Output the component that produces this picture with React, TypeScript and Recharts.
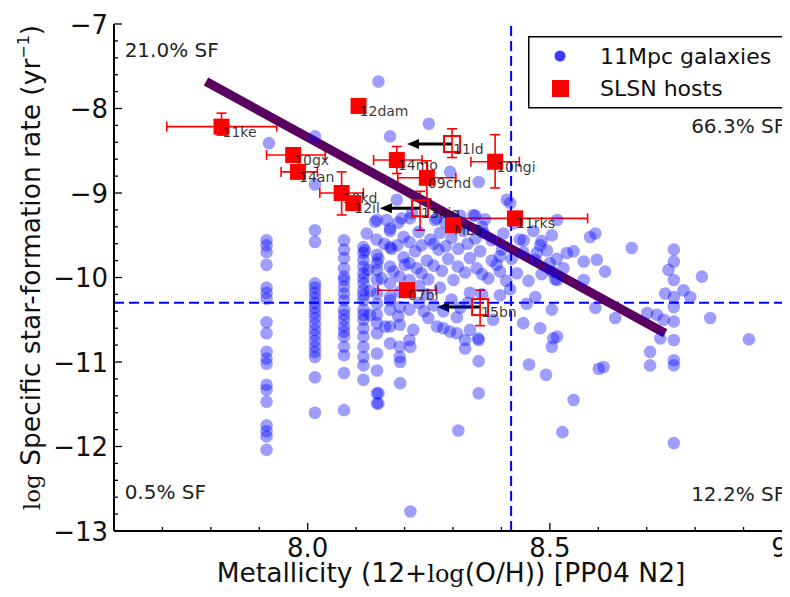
import React from 'react';
import {
  ScatterChart,
  Scatter,
  XAxis,
  YAxis,
  ErrorBar,
  ReferenceLine,
  ReferenceDot,
  Legend,
  Label,
} from 'recharts';

const FONT = '"DejaVu Sans", sans-serif';

// ---- axis ticks ----
const xTicks = [7.6, 7.7, 7.8, 7.9, 8.0, 8.1, 8.2, 8.3, 8.4, 8.5, 8.6, 8.7, 8.8, 8.9, 9.0];
const xMajor = [8.0, 8.5, 9.0];
const xMajorLabels = ['8.0', '8.5', '9.0'];
const yTicks = [
  -13, -12.8, -12.6, -12.4, -12.2, -12, -11.8, -11.6, -11.4, -11.2, -11, -10.8, -10.6, -10.4, -10.2,
  -10, -9.8, -9.6, -9.4, -9.2, -9, -8.8, -8.6, -8.4, -8.2, -8, -7.8, -7.6, -7.4, -7.2, -7,
];
const yMajor = [-13, -12, -11, -10, -9, -8, -7];
const yMajorLabels = ['\u221213', '\u221212', '\u221211', '\u221210', '\u22129', '\u22128', '\u22127'];

// ---- 11Mpc galaxies (metallicity, log sSFR) ----
const galStreakA: [number, number][] = [
  [7.92, -8.41], [7.915, -9.56], [7.915, -9.62], [7.915, -9.7], [7.915, -9.85], [7.915, -10.12], [7.915, -10.18],
  [7.915, -10.25], [7.915, -10.53], [7.915, -10.66], [7.915, -10.88], [7.915, -10.96], [7.915, -11.02],
  [7.915, -11.27], [7.915, -11.33], [7.915, -11.47], [7.915, -11.75], [7.915, -11.82], [7.915, -11.88], [7.915, -12.04],
];
const galStreakB: [number, number][] = [
  [8.015, -8.33], [8.015, -8.9], [8.015, -9.44], [8.015, -9.58], [8.015, -10.07], [8.015, -10.12], [8.015, -10.18],
  [8.015, -10.24], [8.015, -10.3], [8.015, -10.36], [8.015, -10.42], [8.015, -10.48], [8.015, -10.55],
  [8.015, -10.62], [8.015, -10.68], [8.015, -10.75], [8.015, -10.82], [8.015, -10.88], [8.015, -10.94],
  [8.015, -11.18], [8.015, -11.6],
];
const galStreakC: [number, number][] = [
  [8.075, -9.56], [8.075, -9.67], [8.075, -9.77], [8.075, -9.89], [8.075, -9.99], [8.075, -10.11], [8.075, -10.19],
  [8.075, -10.27], [8.075, -10.38], [8.075, -10.5], [8.075, -10.58], [8.075, -10.7], [8.075, -10.82],
  [8.075, -10.92], [8.075, -11.13], [8.075, -11.57], [8.075, -10.03], [8.075, -10.44], [8.075, -10.64],
];
const galStreakD: [number, number][] = [
  [8.115, -9.64], [8.115, -9.71], [8.115, -9.79], [8.115, -9.87], [8.115, -9.95], [8.115, -10.07], [8.115, -10.15],
  [8.115, -10.27], [8.115, -10.38], [8.115, -10.5], [8.115, -10.6], [8.115, -10.7], [8.115, -10.82],
  [8.115, -10.94], [8.115, -11.04], [8.115, -11.21], [8.115, -10.01], [8.115, -10.21], [8.115, -10.44],
  [8.143, -9.73], [8.143, -9.83], [8.143, -9.91], [8.143, -10.03], [8.143, -10.19], [8.143, -10.31], [8.143, -10.44],
  [8.143, -10.54], [8.143, -10.66], [8.143, -10.9], [8.143, -11.1], [8.143, -11.37], [8.143, -11.49],
];
const galCloudUpper: [number, number][] = [
  [8.146, -7.68], [8.25, -8.18], [8.17, -8.33], [8.294, -8.75], [8.353, -8.87], [8.184, -9.08], [8.411, -9.08],
  [8.418, -9.12], [8.215, -9.24], [8.342, -9.26], [8.194, -9.3], [8.143, -9.32], [8.263, -9.32], [8.17, -9.42],
  [8.36, -9.4], [8.425, -9.36], [8.139, -9.34], [8.163, -9.32], [8.187, -9.35], [8.211, -9.3], [8.266, -9.3],
  [8.284, -9.35], [8.315, -9.27], [8.346, -9.27], [8.366, -9.31], [8.515, -9.32],
];
const galCloudMid: [number, number][] = [
  [8.122, -9.48], [8.142, -9.55], [8.17, -9.45], [8.198, -9.52], [8.229, -9.46], [8.253, -9.55], [8.273, -9.47],
  [8.297, -9.53], [8.321, -9.45], [8.346, -9.54], [8.363, -9.47], [8.38, -9.56], [8.404, -9.48], [8.438, -9.55],
  [8.466, -9.45], [8.483, -9.57], [8.504, -9.5], [8.446, -9.56], [8.48, -9.62],
  [8.118, -9.68], [8.146, -9.78], [8.173, -9.66], [8.198, -9.76], [8.222, -9.69], [8.246, -9.8], [8.27, -9.67],
  [8.29, -9.78], [8.311, -9.66], [8.335, -9.77], [8.356, -9.69], [8.38, -9.8], [8.401, -9.67], [8.421, -9.78],
  [8.445, -9.7], [8.47, -9.79], [8.494, -9.68], [8.514, -9.78], [8.397, -9.75], [8.473, -9.71], [8.535, -9.71],
  [8.125, -9.91], [8.153, -10.01], [8.177, -9.93], [8.225, -9.89], [8.249, -10.02], [8.277, -9.92], [8.301, -10.03],
  [8.325, -9.94], [8.349, -9.89], [8.373, -10.01], [8.397, -9.93], [8.432, -9.95], [8.456, -10.04], [8.483, -9.96],
  [8.511, -10.02], [8.5, -9.83], [8.57, -9.81],
  [8.158, -9.6], [8.185, -9.62], [8.21, -9.58], [8.235, -9.62], [8.26, -9.6], [8.285, -9.63], [8.33, -9.6],
  [8.2, -9.85], [8.235, -9.95], [8.26, -9.86], [8.31, -9.87], [8.36, -9.96], [8.39, -9.85], [8.41, -10.04],
];
const galCloudLower: [number, number][] = [
  [8.129, -10.16], [8.17, -10.27], [8.246, -10.2], [8.273, -10.12], [8.297, -10.26], [8.315, -10.36], [8.335, -10.18],
  [8.397, -10.21], [8.418, -10.14], [8.452, -10.31], [8.17, -10.07], [8.19, -10.17], [8.21, -10.03], [8.17, -10.23],
  [8.19, -10.35], [8.21, -10.38], [8.17, -10.38], [8.19, -9.99], [8.17, -9.87], [8.21, -9.83], [8.17, -9.64],
  [8.129, -10.44], [8.16, -10.58], [8.187, -10.46], [8.218, -10.62], [8.249, -10.48], [8.28, -10.6], [8.308, -10.47],
  [8.335, -10.62], [8.352, -10.72], [8.383, -10.5], [8.445, -10.54], [8.48, -10.6], [8.507, -10.72],
  [8.19, -10.56], [8.17, -10.58], [8.17, -10.78], [8.19, -10.82], [8.21, -10.74], [8.19, -10.94], [8.212, -10.82],
  [8.267, -10.58], [8.294, -10.64], [8.308, -10.66], [8.325, -10.74], [8.325, -10.84], [8.353, -10.74],
  [8.353, -10.99], [8.191, -11.0], [8.191, -11.25], [8.146, -11.37], [8.146, -11.49], [8.353, -11.37],
  [8.311, -11.81], [8.212, -12.77], [8.504, -10.38], [8.47, -10.23], [8.515, -10.7], [8.504, -10.82],
  [8.23, -10.1], [8.26, -10.33], [8.28, -10.4], [8.24, -10.4], [8.33, -10.3], [8.36, -10.2], [8.23, -10.3],
];
const galSparseRight: [number, number][] = [
  [8.583, -9.52], [8.594, -9.48], [8.549, -9.69], [8.597, -9.79], [8.614, -9.93], [8.57, -10.03], [8.528, -9.89],
  [8.504, -9.93], [8.515, -10.03], [8.669, -9.65], [8.594, -10.36], [8.635, -10.48], [8.611, -11.06], [8.601, -11.08],
  [8.549, -11.45], [8.526, -11.83], [8.492, -11.15], [8.457, -11.03],
  [8.756, -9.67], [8.756, -9.81], [8.745, -9.91], [8.756, -10.03], [8.738, -10.19], [8.776, -10.15], [8.79, -10.23],
  [8.756, -10.23], [8.756, -10.35], [8.756, -10.52], [8.756, -10.74], [8.756, -10.98], [8.756, -11.04],
  [8.756, -11.96], [8.701, -10.42], [8.721, -10.44], [8.735, -10.5], [8.728, -10.72], [8.707, -10.88],
  [8.707, -11.04], [8.814, -9.99], [8.831, -10.48], [8.911, -10.73],
];

// ---- SLSN hosts ----
const hostNames = ['11ke', '12dam', '10gx', '14an', '10kd', '12il', '14mo', '09cnd', '10hgi', '11rks', 'MLS', '07bi'];
const hostX = [7.822, 8.105, 7.97, 7.98, 8.07, 8.094, 8.184, 8.246, 8.387, 8.428, 8.3, 8.205];
const hostY = [-8.215, -7.97, -8.55, -8.75, -9.0, -9.12, -8.61, -8.82, -8.63, -9.3, -9.38, -10.15];
const hostErrX: [number, number][] = [
  [0.113, 0.114], [0, 0], [0.055, 0.066], [0.035, 0.04], [0.045, 0.045], [0, 0], [0.048, 0.052], [0.06, 0.06],
  [0.05, 0.05], [0.12, 0.15], [0, 0], [0.06, 0.06],
];
const hostErrY: [number, number][] = [
  [0.1, 0.16], [0, 0], [0.08, 0.08], [0.06, 0.06], [0.26, 0.25], [0, 0], [0.16, 0.16], [0.25, 0.2],
  [0.31, 0.32], [0, 0], [0, 0], [0, 0],
];
// upper limits in metallicity (open squares with arrows)
const limitNames = ['11ld', '13ajg', '15bn'];
const limitX = [8.298, 8.232, 8.356];
const limitY = [-8.42, -9.18, -10.35];
const limitArrowTo = [8.205, 8.149, 8.267];
const limitErrY: [number, number][] = [[0.16, 0.18], [0.26, 0.2], [0.22, 0.2]];

// ---- fit line and thresholds ----
const trendX = [7.79, 8.738];
const trendY = [-7.68, -10.66];
const threshX = 8.42;
const threshY = -10.3;

// ---- quadrant annotations ----
const quadText = ['21.0% SF', '66.3% SF', '0.5% SF', '12.2% SF'];
const quadX = [7.622, 8.986, 7.622, 8.986];
const quadY = [-7.39, -8.29, -12.62, -12.645];
const quadAnchor = ['start', 'end', 'start', 'end'];

const galaxies = [
  ...galStreakA, ...galStreakB, ...galStreakC, ...galStreakD,
  ...galCloudUpper, ...galCloudMid, ...galCloudLower, ...galSparseRight,
].map(([x, y]) => ({ x, y }));

const hosts = hostNames.map((name, i) => ({
  name, x: hostX[i], y: hostY[i], ex: hostErrX[i], ey: hostErrY[i],
}));
const limits = limitNames.map((name, i) => ({
  name, x: limitX[i], y: limitY[i], ey: limitErrY[i], ax: limitArrowTo[i],
}));

const near = (a: number, b: number) => Math.abs(a - b) < 1e-6;

const XTickBottom = (props: any) => {
  const { x, y, payload } = props;
  const idx = xMajor.findIndex((m) => near(m, payload.value));
  const major = idx >= 0;
  return (
    <g>
      <line x1={x} x2={x} y1={y} y2={y - (major ? 8 : 4)} stroke="#000" strokeWidth={1.3} />
      {major && (
        <text x={x} y={y + 26} textAnchor="middle" fontSize={26} fontFamily={FONT} fill="#111">
          {xMajorLabels[idx]}
        </text>
      )}
    </g>
  );
};
const XTickTop = (props: any) => {
  const { x, y, payload } = props;
  const major = xMajor.some((m) => near(m, payload.value));
  return <line x1={x} x2={x} y1={y} y2={y + (major ? 8 : 4)} stroke="#000" strokeWidth={1.3} />;
};
const YTickLeft = (props: any) => {
  const { x, y, payload } = props;
  const idx = yMajor.findIndex((m) => near(m, payload.value));
  const major = idx >= 0;
  return (
    <g>
      <line x1={x} x2={x + (major ? 8 : 4)} y1={y} y2={y} stroke="#000" strokeWidth={1.3} />
      {major && (
        <text x={x - 6} y={y + 9.5} textAnchor="end" fontSize={26} fontFamily={FONT} fill="#111">
          {yMajorLabels[idx]}
        </text>
      )}
    </g>
  );
};
const YTickRight = (props: any) => {
  const { x, y, payload } = props;
  const major = yMajor.some((m) => near(m, payload.value));
  return <line x1={x} x2={x - (major ? 8 : 4)} y1={y} y2={y} stroke="#000" strokeWidth={1.3} />;
};

const XAxisTitle = (props: any) => {
  const vb = props.viewBox;
  return (
    <text x={vb.x + vb.width / 2 - 2} y={vb.y + 51} textAnchor="middle" fontSize={26.5} fontFamily={FONT} fill="#111">
      Metallicity (12+
      <tspan fontFamily='"DejaVu Serif", serif' fontSize={24}>log</tspan>
      (O/H)) [PP04 N2]
    </text>
  );
};
const YAxisTitle = (props: any) => {
  const vb = props.viewBox;
  const cx = vb.x + 32;
  const cy = vb.y + vb.height / 2 - 10;
  return (
    <text
      x={cx}
      y={cy}
      transform={`rotate(-90 ${cx} ${cy})`}
      textAnchor="middle"
      fontSize={26.5}
      fontFamily={FONT}
      fill="#111"
    >
      <tspan fontFamily='"DejaVu Serif", serif' fontSize={23}>log</tspan>
      {' Specific star-formation rate (yr'}
      <tspan fontSize={16} dy={-11}>{'\u22121'}</tspan>
      <tspan dy={11}>)</tspan>
    </text>
  );
};

const GalaxyDot = (p: any) => <circle cx={p.cx} cy={p.cy} r={6.3} fill="#0000ff" fillOpacity={0.38} />;

const HostSquare = (p: any) => (
  <g>
    <rect x={p.cx - 8} y={p.cy - 8} width={16} height={16} fill="#ff0000" />
    <text x={p.cx + 1} y={p.cy + 10} fontSize={14} fontFamily={FONT} fill="#111" fillOpacity={0.85}>
      {p.payload.name}
    </text>
  </g>
);
const LimitSquare = (p: any) => (
  <g>
    <rect x={p.cx - 8} y={p.cy - 8} width={16} height={16} fill="none" stroke="#ff0000" strokeWidth={2} />
    <text x={p.cx + 1} y={p.cy + 10} fontSize={14} fontFamily={FONT} fill="#111" fillOpacity={0.85}>
      {p.payload.name}
    </text>
  </g>
);

const Arrow = (p: any) => {
  const { x1, y1, x2, y2 } = p;
  const dir = x2 < x1 ? -1 : 1;
  const hx = x2;
  return (
    <g>
      <line x1={x1} y1={y1} x2={hx - dir * 10} y2={y2} stroke="#000" strokeWidth={3} />
      <polygon points={`${hx},${y2} ${hx - dir * 12},${y2 - 5} ${hx - dir * 12},${y2 + 5}`} fill="#000" />
    </g>
  );
};

const TrendLine = (p: any) => (
  <line x1={p.x1} y1={p.y1} x2={p.x2} y2={p.y2} stroke="#5a0060" strokeWidth={9} />
);

const renderLegend = () => (
  <svg width={258} height={73} style={{ display: 'block' }}>
    <rect x={0.75} y={0.75} width={256} height={71} fill="#fff" stroke="#000" strokeWidth={1.5} />
    <circle cx={32} cy={20} r={5.5} fill="#3b3bff" />
    <text x={72} y={28} fontSize={22} fontFamily={FONT} fill="#111">11Mpc galaxies</text>
    <rect x={24} y={44} width={17} height={17} fill="#ff0000" />
    <text x={72} y={60} fontSize={22} fontFamily={FONT} fill="#111">SLSN hosts</text>
  </svg>
);

export default function App() {
  return (
    <div style={{ width: 782, height: 581, overflow: 'hidden' }}>
      <ScatterChart width={782} height={581} margin={{ top: 16, right: -2, bottom: 0, left: 0 }}>
        <XAxis
          type="number"
          dataKey="x"
          domain={[7.6, 9.0]}
          ticks={xTicks}
          interval={0}
          tick={XTickBottom}
          tickLine={false}
          tickSize={0}
          tickMargin={0}
          height={58}
          allowDataOverflow
          axisLine={{ stroke: '#000', strokeWidth: 2 }}
        >
          <Label content={XAxisTitle} />
        </XAxis>
        <XAxis
          xAxisId="top"
          orientation="top"
          type="number"
          domain={[7.6, 9.0]}
          ticks={xTicks}
          interval={0}
          tick={XTickTop}
          tickLine={false}
          tickSize={0}
          tickMargin={0}
          height={0}
          allowDataOverflow
          axisLine={{ stroke: '#000', strokeWidth: 2 }}
        />
        <YAxis
          type="number"
          dataKey="y"
          domain={[-13, -7]}
          ticks={yTicks}
          interval={0}
          tick={YTickLeft}
          tickLine={false}
          tickSize={0}
          tickMargin={0}
          width={106}
          allowDataOverflow
          axisLine={{ stroke: '#000', strokeWidth: 2 }}
        >
          <Label content={YAxisTitle} />
        </YAxis>
        <YAxis
          yAxisId="right"
          orientation="right"
          type="number"
          domain={[-13, -7]}
          ticks={yTicks}
          interval={0}
          tick={YTickRight}
          tickLine={false}
          tickSize={0}
          tickMargin={0}
          width={0}
          allowDataOverflow
          axisLine={{ stroke: '#000', strokeWidth: 2 }}
        />

        <Scatter data={galaxies} shape={GalaxyDot} isAnimationActive={false} />

        <ReferenceLine x={threshX} stroke="#0000ff" strokeWidth={2} strokeDasharray="10 5" />
        <ReferenceLine y={threshY} stroke="#0000ff" strokeWidth={2} strokeDasharray="10 5" />

        {limits.map((l) => (
          <ReferenceLine
            key={'arr' + l.name}
            segment={[{ x: l.x, y: l.y }, { x: l.ax, y: l.y }]}
            shape={Arrow}
          />
        ))}

        <Scatter data={limits} shape={LimitSquare} isAnimationActive={false}>
          <ErrorBar dataKey="ey" direction="y" width={5} stroke="#ff0000" strokeWidth={1.6} />
        </Scatter>
        <Scatter data={hosts} shape={HostSquare} isAnimationActive={false}>
          <ErrorBar dataKey="ex" direction="x" width={5} stroke="#ff0000" strokeWidth={1.6} />
          <ErrorBar dataKey="ey" direction="y" width={5} stroke="#ff0000" strokeWidth={1.6} />
        </Scatter>

        <ReferenceLine
          segment={[{ x: trendX[0], y: trendY[0] }, { x: trendX[1], y: trendY[1] }]}
          shape={TrendLine}
        />

        {quadText.map((t, i) => (
          <ReferenceDot
            key={t}
            x={quadX[i]}
            y={quadY[i]}
            r={0}
            shape={(p: any) => (
              <text
                x={p.cx}
                y={p.cy}
                textAnchor={quadAnchor[i] as any}
                fontSize={20}
                fontFamily={FONT}
                fill="#222"
              >
                {t}
              </text>
            )}
          />
        ))}

        <Legend
          content={renderLegend}
          layout="horizontal"
          verticalAlign="middle"
          align="center"
          wrapperStyle={{ position: 'absolute', left: 520, top: 28, width: 258, height: 73 }}
        />
      </ScatterChart>
    </div>
  );
}
